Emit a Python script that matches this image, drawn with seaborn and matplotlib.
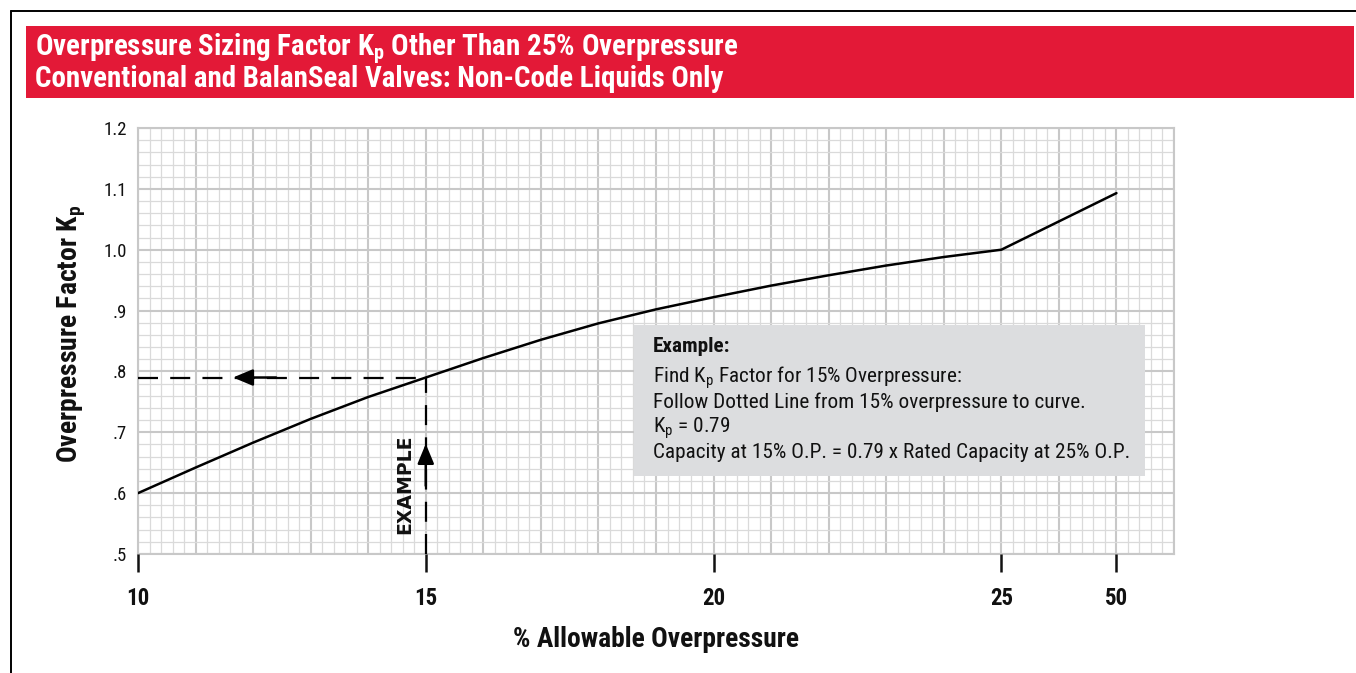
import numpy as np
import pandas as pd
import seaborn as sns
import matplotlib
matplotlib.use("Agg")
import matplotlib.pyplot as plt
import matplotlib.font_manager as fm
from matplotlib.font_manager import FontProperties
from matplotlib.patches import Rectangle
from matplotlib.lines import Line2D
from matplotlib.ticker import FixedLocator, NullFormatter

# Kp curve for non-code liquids (conventional and BalanSeal valves)
overpressure_pct = [10, 11, 12, 13, 14, 15, 16, 17, 18, 19, 20, 21, 22, 23, 24, 25, 50]
kp_factor = [0.600, 0.642, 0.683, 0.722, 0.758, 0.790, 0.822, 0.852, 0.879, 0.902,
             0.922, 0.941, 0.958, 0.974, 0.988, 1.000, 1.093]

x_tick_values = [10, 15, 20, 25, 50]
x_tick_labels = ["10", "15", "20", "25", "50"]
y_tick_values = [0.5, 0.6, 0.7, 0.8, 0.9, 1.0, 1.1, 1.2]
y_tick_labels = [".5", ".6", ".7", ".8", ".9", "1.0", "1.1", "1.2"]

example_op = 15
example_kp = 0.79

title_lines = ["Overpressure Sizing Factor K$_\\mathregular{p}$ Other Than 25% Overpressure",
               "Conventional and BalanSeal Valves: Non-Code Liquids Only"]
example_heading = "Example:"
example_lines = ["Find K$_\\mathregular{p}$ Factor for 15% Overpressure:",
                 "Follow Dotted Line from 15% overpressure to curve.",
                 "K$_\\mathregular{p}$ = 0.79",
                 "Capacity at 15% O.P. = 0.79 x Rated Capacity at 25% O.P."]


def pick_narrow_font():
    """Return (family, stretch) of the narrowest sans face available."""
    prefs = [("Liberation Sans Narrow", "normal"), ("Roboto Condensed", "normal"),
             ("Open Sans Condensed", "normal"), ("DejaVu Sans", "condensed"),
             ("Liberation Sans", "normal")]
    names = {(f.name, str(f.stretch)) for f in fm.fontManager.ttflist}
    for fam, stretch in prefs:
        if fam == "DejaVu Sans" and stretch == "condensed":
            if any(n == fam and s in ("condensed", "semi-condensed") for n, s in names):
                return fam, "condensed"
        elif any(n == fam for n, _ in names):
            return fam, stretch
    return "DejaVu Sans", "normal"


sns.set_style("white")
NARROW, STRETCH = pick_narrow_font()
plt.rcParams["font.family"] = [NARROW, "DejaVu Sans"]
plt.rcParams["font.stretch"] = STRETCH
plt.rcParams["mathtext.fontset"] = "custom"
plt.rcParams["mathtext.rm"] = NARROW
plt.rcParams["mathtext.bf"] = NARROW + ":bold"
plt.rcParams["mathtext.it"] = NARROW + ":italic"

W, H = 1356, 673
INK = "#111111"


def to_pos(x):
    # 10-25 % on a linear scale, 25-50 % compressed into two grid units
    x = np.asarray(x, dtype=float)
    return np.where(x <= 25, x, 25 + (x - 25) * 0.08)


def to_val(p):
    p = np.asarray(p, dtype=float)
    return np.where(p <= 25, p, 25 + (p - 25) / 0.08)


fig = plt.figure(figsize=(W / 100, H / 100), dpi=100)
fig.patch.set_facecolor("white")
renderer = fig.canvas.get_renderer()


def fit(text, target_px, along="width"):
    """Scale a text's font size so its extent spans target_px."""
    bb = text.get_window_extent(renderer)
    span = bb.width if along == "width" else bb.height
    text.set_fontsize(text.get_fontsize() * target_px / span)
    return text.get_fontsize()


def fitted_size(s, target_px, **kw):
    t = fig.text(0, 0, s, fontsize=20, **kw)
    size = fit(t, target_px)
    t.remove()
    return size


ax = fig.add_axes([138 / W, 1 - 554 / H, 1036 / W, 426 / H])
ax.set_xscale("function", functions=(to_pos, to_val))
ax.set_xlim(10, float(to_val(28)))
ax.set_ylim(0.5, 1.2)

# graph-paper grid
ax.xaxis.set_major_locator(FixedLocator(to_val(np.arange(10, 28.5, 1.0))))
ax.xaxis.set_minor_locator(FixedLocator(to_val(np.round(np.arange(10, 28.01, 0.2), 2))))
ax.xaxis.set_major_formatter(NullFormatter())
ax.xaxis.set_minor_formatter(NullFormatter())
ax.set_yticks(y_tick_values, labels=y_tick_labels)
ax.yaxis.set_minor_locator(FixedLocator(np.round(np.arange(0.5, 1.2001, 0.02), 3)))
ax.tick_params(which="both", length=0)
ax.tick_params(axis="y", pad=8, labelsize=13.5, labelcolor=INK)
ax.grid(which="major", color="#c8c8c8", lw=1.5)
ax.grid(which="minor", color="#dadada", lw=0.9)
ax.set_axisbelow(True)
for sp in ax.spines.values():
    sp.set_color("#c8c8c8")
    sp.set_linewidth(1.5)

# the curve
sns.lineplot(x=overpressure_pct, y=kp_factor, ax=ax, color="black", lw=1.8, zorder=3)
ax.set_xlabel("")
ax.set_ylabel("")

# example construction lines
dash_kw = dict(color="black", lw=1.6, dashes=(9, 5.5), zorder=3)
ax.plot([overpressure_pct[0], example_op], [example_kp, example_kp], **dash_kw)
ax.plot([example_op, example_op], [y_tick_values[0], example_kp], **dash_kw)
arrow_kw = dict(arrowstyle="-|>,head_length=0.6,head_width=0.25", lw=1.8,
                color="black", shrinkA=0, shrinkB=0, mutation_scale=20)
ax.annotate("", xy=(11.65, example_kp), xytext=(12.4, example_kp),
            arrowprops=arrow_kw, zorder=4)
ax.annotate("", xy=(example_op, 0.681), xytext=(example_op, 0.612),
            arrowprops=arrow_kw, zorder=4)
ex = ax.text(14.63, 0.614, "EXAMPLE", rotation=90, ha="center", va="center",
             fontproperties=FontProperties(family="DejaVu Sans", weight="bold",
                                           stretch="normal"),
             color=INK, zorder=4)
ex.set_fontsize(15)
fit(ex, 100, along="height")

# labelled ticks on their own x axis
ax2 = ax.twiny()
ax2.set_xscale("function", functions=(to_pos, to_val))
ax2.set_xlim(ax.get_xlim())
ax2.xaxis.set_ticks_position("bottom")
ax2.xaxis.set_label_position("bottom")
ax2.set_xticks(x_tick_values, labels=x_tick_labels)
ax2.xaxis.set_minor_locator(FixedLocator([]))
ax2.tick_params(axis="x", which="major", length=13, width=1.8, color=INK,
                pad=10.5, labelsize=16.5, labelcolor=INK)
for lab in ax2.get_xticklabels():
    lab.set_fontweight("bold")
for sp in ax2.spines.values():
    sp.set_visible(False)

# axis titles
xl = fig.text(656 / W, 1 - 647 / H, "% Allowable Overpressure", ha="center",
              va="baseline", fontsize=20, fontweight="bold", color=INK)
fit(xl, 286)
yl = fig.text(71.5 / W, 1 - 334 / H, "Overpressure Factor K$_\\mathregular{p}$",
              rotation=90, ha="center", va="center", fontsize=20, fontweight="bold",
              color=INK)
fit(yl, 258, along="height")

# example box
fig.add_artist(Rectangle((634 / W, 1 - 476 / H), 511 / W, 151 / H,
                         transform=fig.transFigure, facecolor="#dcdddf",
                         edgecolor="none", zorder=5))
head = fig.text(653 / W, 1 - 352 / H, example_heading, fontsize=14, fontweight="bold",
                va="baseline", color=INK, zorder=6)
fit(head, 78)
body_size = fitted_size(example_lines[-1], 478)
for i, line in enumerate(example_lines):
    fig.text(653 / W, 1 - (383 + 25 * i) / H, line, fontsize=body_size,
             va="baseline", color=INK, zorder=6)

# red title banner
fig.add_artist(Rectangle((26 / W, 1 - 98 / H), 1328 / W, 72 / H,
                         transform=fig.transFigure, facecolor="#e31937",
                         edgecolor="none", zorder=5))
title_size = fitted_size(title_lines[0], 702, fontweight="bold")
fig.text(35 / W, 1 - 55 / H, title_lines[0], fontsize=title_size, fontweight="bold",
         color="white", va="baseline", zorder=6)
fig.text(35 / W, 1 - 87 / H, title_lines[1], fontsize=title_size, fontweight="bold",
         color="white", va="baseline", zorder=6)

# page frame
fig.add_artist(Line2D([11 / W, 1], [1 - 11 / H, 1 - 11 / H], color="black", lw=1.4,
                      transform=fig.transFigure))
fig.add_artist(Line2D([11 / W, 11 / W], [0, 1 - 11 / H], color="black", lw=1.4,
                      transform=fig.transFigure))

fig.savefig("out.png", dpi=100, facecolor="white")
